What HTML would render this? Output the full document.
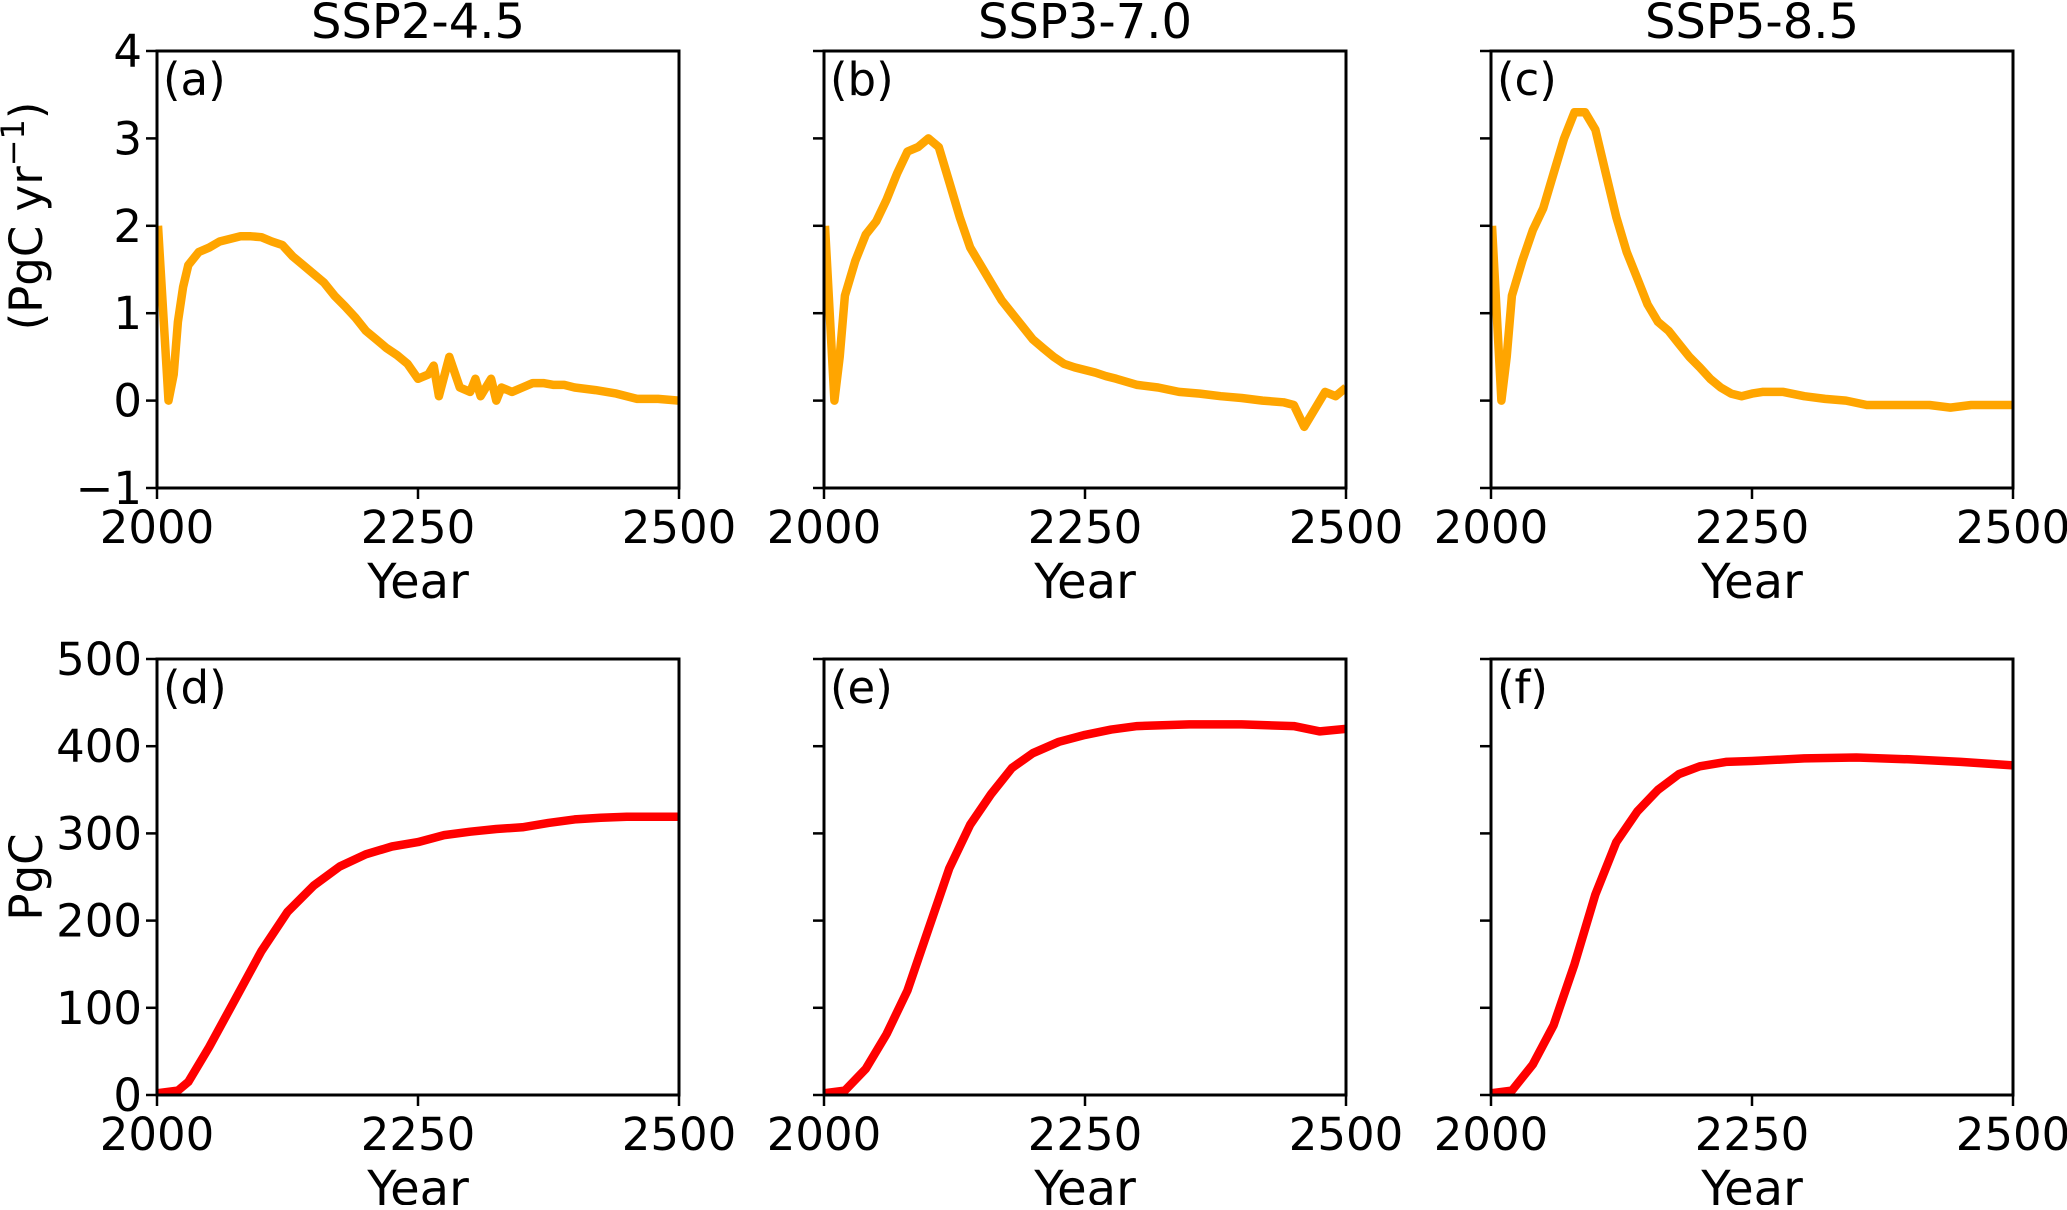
<!DOCTYPE html>
<html><head><meta charset="utf-8"><style>
html,body{margin:0;padding:0;background:#fff;}
svg text{font-family:"DejaVu Sans","Liberation Sans",sans-serif;fill:#000;}
</style></head><body>
<svg id="fig" width="2067" height="1205" viewBox="0 0 2067 1205" xmlns="http://www.w3.org/2000/svg"></svg>
<script>
const years_a=[2001,2011,2016,2020,2025,2030,2040,2050,2060,2070,2080,2090,2100,2110,2120,2130,2140,2150,2160,2170,2180,2190,2200,2210,2220,2230,2240,2250,2260,2265,2270,2280,2290,2300,2305,2310,2320,2325,2330,2340,2350,2360,2370,2380,2390,2400,2420,2440,2460,2480,2500];
const flux_a=[2.0,0.0,0.3,0.9,1.3,1.55,1.7,1.75,1.82,1.85,1.88,1.88,1.87,1.82,1.78,1.65,1.55,1.45,1.35,1.2,1.08,0.95,0.8,0.7,0.6,0.52,0.42,0.25,0.3,0.4,0.05,0.5,0.15,0.1,0.25,0.05,0.25,0.0,0.15,0.1,0.15,0.2,0.2,0.18,0.18,0.15,0.12,0.08,0.02,0.02,0.0];
const years_b=[2001,2010,2015,2020,2030,2040,2050,2060,2070,2080,2090,2100,2110,2120,2130,2140,2150,2160,2170,2180,2190,2200,2210,2220,2230,2240,2250,2260,2270,2280,2300,2320,2340,2360,2380,2400,2420,2440,2450,2460,2470,2480,2490,2500];
const flux_b=[2.0,0.0,0.5,1.2,1.6,1.9,2.05,2.3,2.6,2.85,2.9,3.0,2.9,2.5,2.1,1.75,1.55,1.35,1.15,1.0,0.85,0.7,0.6,0.5,0.42,0.38,0.35,0.32,0.28,0.25,0.18,0.15,0.1,0.08,0.05,0.03,0.0,-0.02,-0.05,-0.3,-0.1,0.1,0.05,0.15];
const years_c=[2001,2010,2015,2020,2030,2040,2050,2060,2070,2080,2090,2100,2110,2120,2130,2140,2150,2160,2170,2180,2190,2200,2210,2220,2230,2240,2250,2260,2280,2300,2320,2340,2360,2380,2400,2420,2440,2460,2480,2500];
const flux_c=[2.0,0.0,0.5,1.2,1.6,1.95,2.2,2.6,3.0,3.3,3.3,3.1,2.6,2.1,1.7,1.4,1.1,0.9,0.8,0.65,0.5,0.38,0.25,0.15,0.08,0.05,0.08,0.1,0.1,0.05,0.02,0.0,-0.05,-0.05,-0.05,-0.05,-0.08,-0.05,-0.05,-0.05];
const years_d=[2000,2020,2030,2050,2075,2100,2125,2150,2175,2200,2225,2250,2275,2300,2325,2350,2375,2400,2425,2450,2500];
const stock_d=[2,5,15,55,110,165,210,240,262,276,285,290,298,302,305,307,312,316,318,319,319];
const years_e=[2000,2020,2040,2060,2080,2100,2120,2140,2160,2180,2200,2225,2250,2275,2300,2350,2400,2450,2475,2500];
const stock_e=[2,5,30,70,120,190,260,310,345,375,392,405,413,419,423,425,425,423,417,420];
const years_f=[2000,2020,2040,2060,2080,2100,2120,2140,2160,2180,2200,2225,2250,2300,2350,2400,2450,2500];
const stock_f=[2,5,35,80,150,230,290,325,350,368,377,382,383,386,387,385,382,378];
const titles=["SSP2-4.5","SSP3-7.0","SSP5-8.5"];
const xTicks=[2000,2250,2500];
const yTicksTop=[-1,0,1,2,3,4];
const yTicksBot=[0,100,200,300,400,500];

const NS="http://www.w3.org/2000/svg";
const svg=document.getElementById('fig');
function mk(tag,attrs,parent){const e=document.createElementNS(NS,tag);for(const k in attrs)e.setAttribute(k,attrs[k]);(parent||svg).appendChild(e);return e;}
const lefts=[157,824,1491], W=522;
const rows=[{top:51,bot:488,ymin:-1,ymax:4,ticks:yTicksTop,color:"#FFA500",series:[[years_a,flux_a],[years_b,flux_b],[years_c,flux_c]],labels:["(a)","(b)","(c)"],fmt:v=>v<0?"\u2212"+Math.abs(v):String(v)},
{top:659,bot:1095,ymin:0,ymax:500,ticks:yTicksBot,color:"#FF0000",series:[[years_d,stock_d],[years_e,stock_e],[years_f,stock_f]],labels:["(d)","(e)","(f)"],fmt:v=>String(v)}];
rows.forEach((r,ri)=>{
  lefts.forEach((L,ci)=>{
    const g=mk('g',{});
    
    
    const xs=v=>L+(v-2000)/500*W;
    const ys=v=>r.bot-(v-r.ymin)/(r.ymax-r.ymin)*(r.bot-r.top);
    const [xv,yv]=r.series[ci];
    const pts=xv.map((x,i)=>xs(x).toFixed(1)+","+ys(yv[i]).toFixed(1)).join(" ");
    const cp=mk('clipPath',{id:'cp'+ri+ci},g);mk('rect',{x:L,y:r.top,width:W,height:r.bot-r.top},cp);
    const line=mk('polyline',{points:pts,fill:"none",stroke:r.color,"stroke-width":8.5,"stroke-linejoin":"round","clip-path":"url(#cp"+ri+ci+")"},g);
    
    
    const fr=mk('rect',{x:L,y:r.top,width:W,height:r.bot-r.top,fill:"none",stroke:"#000","stroke-width":3},g);
    
    
    xTicks.forEach(t=>{
      mk('line',{x1:xs(t),x2:xs(t),y1:r.bot,y2:r.bot+11,stroke:"#000","stroke-width":2.5},g);
      const tx=mk('text',{x:xs(t),y:r.bot+55,"font-size":45,"text-anchor":"middle"},g);tx.textContent=t;
      
      
    });
    r.ticks.forEach(t=>{
      mk('line',{x1:L-11,x2:L,y1:ys(t),y2:ys(t),stroke:"#000","stroke-width":2.5},g);
      if(ci===0){const ty=mk('text',{x:L-15,y:ys(t)+16,"font-size":45,"text-anchor":"end"},g);ty.textContent=r.fmt(t);
        
        }
    });
    const pl=mk('text',{x:L+6,y:r.top+44,"font-size":45},g);pl.textContent=r.labels[ci];
    
    
    const xl=mk('text',{x:L+W/2,y:r.bot+110,"font-size":48,"text-anchor":"middle"},g);xl.textContent="Year";
    
    
    if(ri===0){const tt=mk('text',{x:L+W/2,y:38,"font-size":48,"text-anchor":"middle"},g);tt.textContent=titles[ci];
      
      }
  });
});
const yl1=mk('text',{x:0,y:0,"font-size":45,"text-anchor":"middle",transform:"translate(42,216) rotate(-90)"});
yl1.innerHTML='(PgC yr<tspan dy="-18" font-size="32">\u22121</tspan><tspan dy="18">)</tspan>';


const yl2=mk('text',{x:0,y:0,"font-size":45,"text-anchor":"middle",transform:"translate(42,877) rotate(-90)"});
yl2.textContent="PgC";


</script>
</body></html>
